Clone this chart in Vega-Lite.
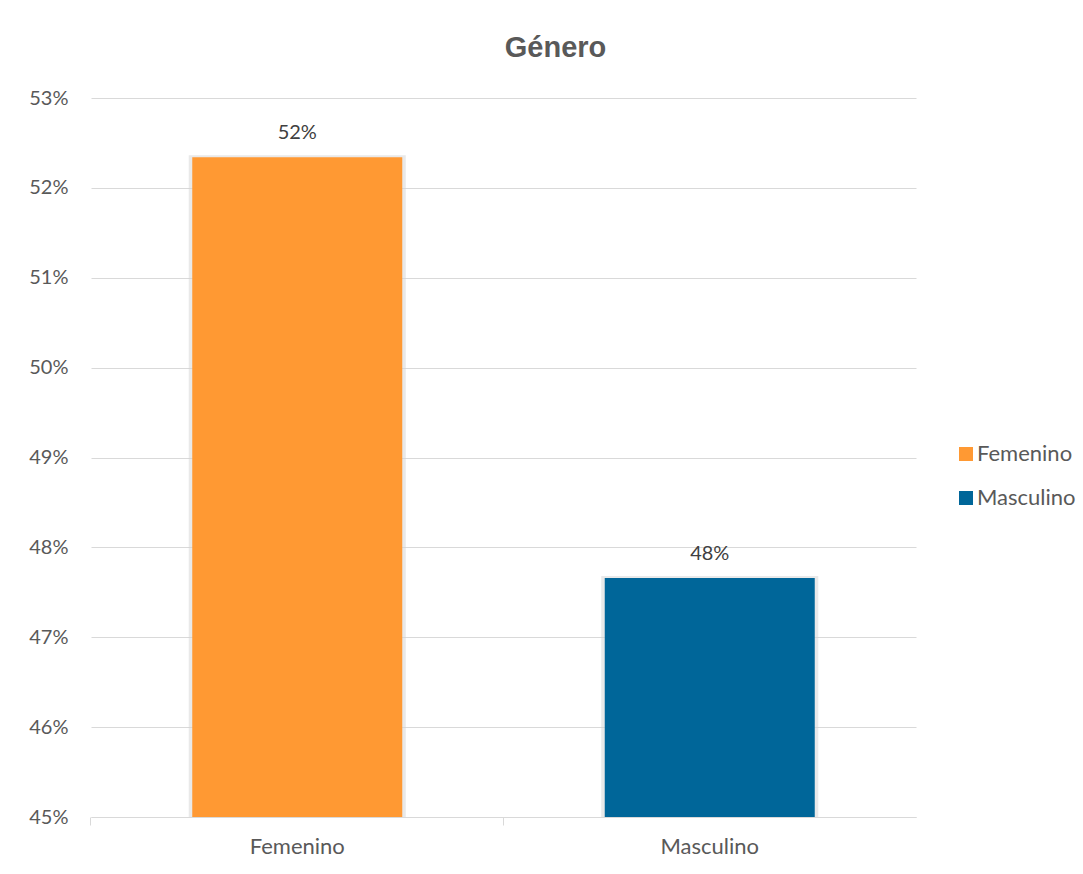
{
  "$schema": "https://vega.github.io/schema/vega-lite/v6.json",
  "autosize": "none",
  "padding": {"left": 91, "top": 98, "right": 167, "bottom": 57},
  "width": 825,
  "height": 719,
  "background": "white",
  "title": {
    "text": "Género",
    "font": "Liberation Sans",
    "fontSize": 29,
    "fontWeight": "bold",
    "color": "#595959",
    "anchor": "middle",
    "dx": 52,
    "offset": 25
  },
  "config": {
    "view": {"stroke": null},
    "font": "Lato"
  },
  "data": {
    "values": [
      {"genero": "Femenino", "valor": 0.5234},
      {"genero": "Masculino", "valor": 0.4766}
    ]
  },
  "encoding": {
    "x": {
      "field": "genero",
      "type": "nominal",
      "sort": ["Femenino", "Masculino"],
      "scale": {"paddingInner": 0.49, "paddingOuter": 0.245},
      "axis": {
        "title": null,
        "labelAngle": 0,
        "labelFont": "Lato",
        "labelFontSize": 22,
        "labelColor": "#595959",
        "labelPadding": 11,
        "domainColor": "#d9d9d9",
        "tickColor": "#d9d9d9",
        "tickSize": 8,
        "bandPosition": -0.481,
        "grid": false
      }
    },
    "y": {
      "field": "valor",
      "type": "quantitative",
      "scale": {"domain": [0.45, 0.53], "zero": false, "nice": false},
      "axis": {
        "title": null,
        "values": [0.45, 0.46, 0.47, 0.48, 0.49, 0.50, 0.51, 0.52, 0.53],
        "format": ".0%",
        "domain": false,
        "ticks": false,
        "labelPadding": 23,
        "labelFont": "Lato",
        "labelFontSize": 20,
        "labelColor": "#595959",
        "gridColor": "#d9d9d9",
        "gridWidth": 1
      }
    }
  },
  "layer": [
    {
      "mark": {"type": "bar", "size": 217, "color": "#d4d4d4", "opacity": 0.5, "yOffset": -2},
      "encoding": {
        "y2": {"datum": 0.45}
      }
    },
    {
      "mark": {"type": "bar", "size": 210},
      "encoding": {
        "y2": {"datum": 0.45},
        "color": {
          "field": "genero",
          "type": "nominal",
          "scale": {"domain": ["Femenino", "Masculino"], "range": ["#FF9933", "#006699"]},
          "legend": {
            "title": null,
            "orient": "none",
            "legendX": 864,
            "legendY": 345,
            "symbolType": "square",
            "symbolSize": 196,
            "symbolStrokeWidth": 0,
            "labelFont": "Lato",
            "labelFontSize": 22,
            "labelColor": "#595959",
            "labelOffset": 0,
            "rowPadding": 22
          }
        }
      }
    },
    {
      "mark": {"type": "text", "dy": -24, "font": "Lato", "fontSize": 20, "color": "#404040"},
      "encoding": {
        "text": {"field": "valor", "type": "quantitative", "format": ".0%"}
      }
    }
  ]
}
